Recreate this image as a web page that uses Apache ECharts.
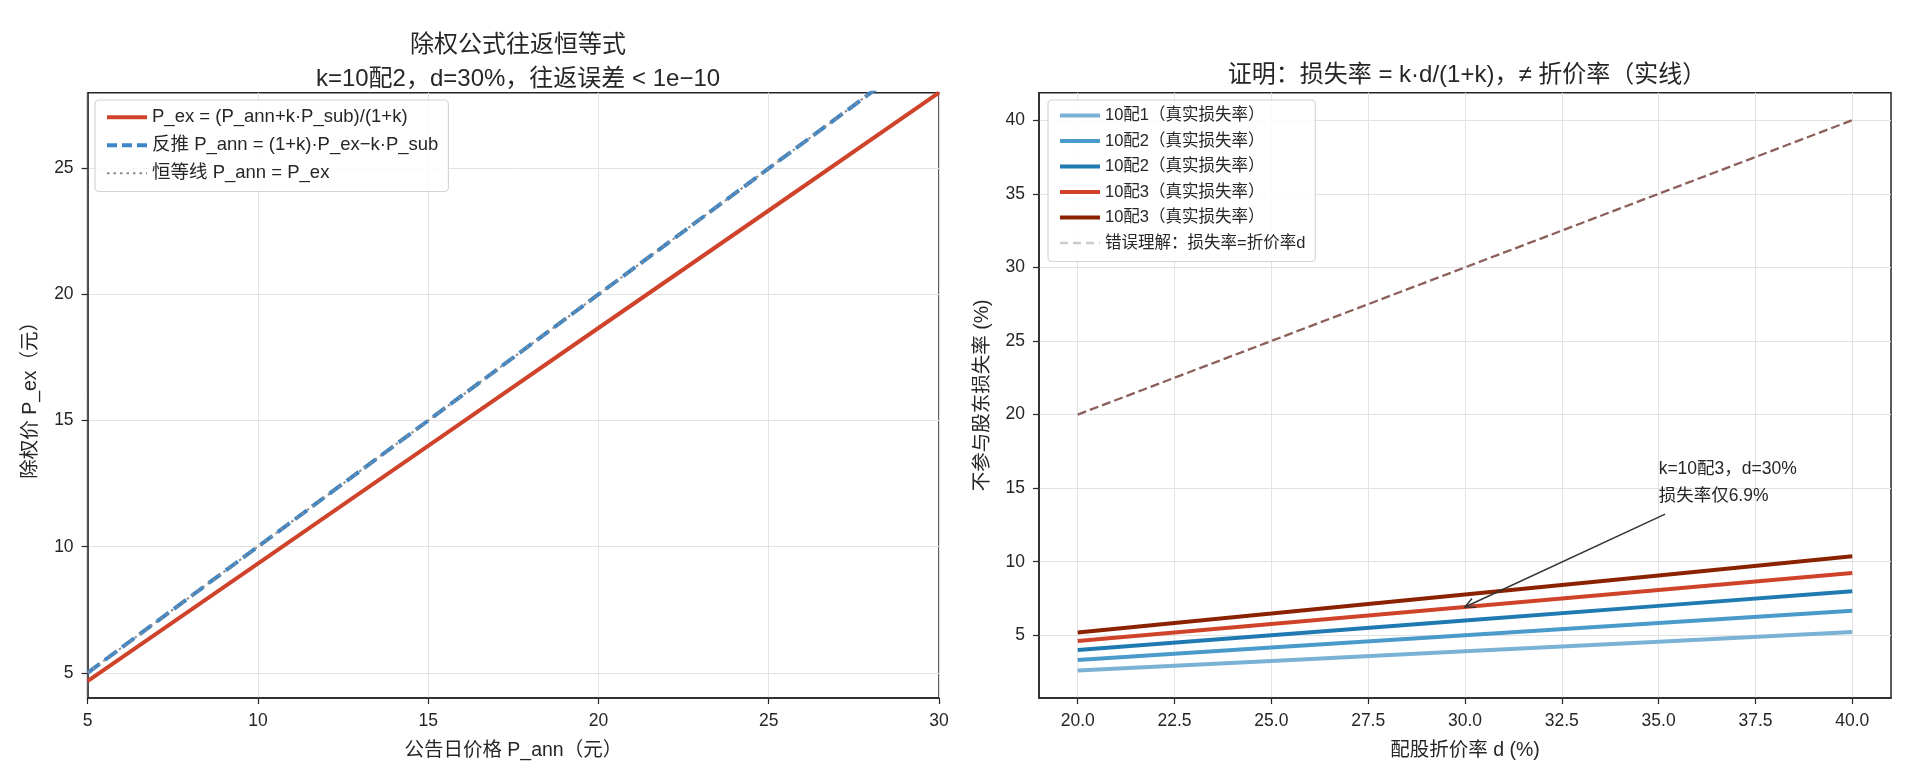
<!DOCTYPE html>
<html><head><meta charset="utf-8">
<script src="https://cdn.jsdelivr.net/npm/echarts@6/dist/echarts.min.js"></script>
<style>html,body{margin:0;padding:0;background:#fff}#c{width:1914px;height:783px}</style>
</head><body><div id="c"></div>
<script>
const FONT = '"Liberation Sans", "Noto Sans CJK SC", sans-serif';
const INK = '#262626';

// ---- Left panel data ----
const pAnn = [5, 10, 15, 20, 25, 30];
const pEx = [4.67, 9.33, 14.0, 18.67, 23.33, 28.0];
const pAnnBack = [5, 10, 15, 20, 25, 30];
const pIdentity = [5, 10, 15, 20, 25, 30];
const leftXTicks = [5, 10, 15, 20, 25, 30];
const leftYTicks = [5, 10, 15, 20, 25];
const leftNames = ['P_ex = (P_ann+k·P_sub)/(1+k)', '反推 P_ann = (1+k)·P_ex−k·P_sub', '恒等线 P_ann = P_ex'];

// ---- Right panel data ----
const dVals = [20, 25, 30, 35, 40];
const loss1 = [2.61, 3.26, 3.91, 4.57, 5.22];
const loss2 = [3.33, 4.17, 5.00, 5.83, 6.67];
const loss3 = [4.00, 5.00, 6.00, 7.00, 8.00];
const loss4 = [4.62, 5.77, 6.92, 8.08, 9.23];
const loss5 = [5.19, 6.48, 7.78, 9.07, 10.37];
const naive = [20, 25, 30, 35, 40];
const rightXTicks = [20, 22.5, 25, 27.5, 30, 32.5, 35, 37.5, 40];
const rightYTicks = [5, 10, 15, 20, 25, 30, 35, 40];
const rightNames = ['10配1（真实损失率）', '10配2（真实损失率）', '10配2（真实损失率）\u200b', '10配3（真实损失率）', '10配3（真实损失率）\u200b', '错误理解：损失率=折价率d'];
const rightColors = ['#7ab2d6', '#4a9bcb', '#1f7ab2', '#d0432b', '#8a2200'];
const annotText = 'k=10配3，d=30%\n损失率仅6.9%';
const annotAt = [35, 15];
const annotTip = [30, 6.92];

function pairs(xs, ys) { return xs.map((x, i) => [x, ys[i]]); }

function xAxis(gi, min, max, ticks, name, fmt) {
  return {
    type: 'value', gridIndex: gi, min: min, max: max,
    name: name, nameLocation: 'middle', nameGap: 43,
    nameTextStyle: { fontFamily: FONT, fontSize: 19.5, color: INK },
    axisLine: { show: true, lineStyle: { color: INK, width: 1.5 } },
    axisTick: { show: true, length: 6, lineStyle: { color: INK, width: 1.2 }, customValues: ticks },
    axisLabel: { customValues: ticks, margin: 14, fontFamily: FONT, fontSize: 17.5, color: INK, formatter: fmt },
    splitLine: { show: true, lineStyle: { color: '#e3e3e3', width: 1 } }
  };
}
function yAxis(gi, min, max, ticks, name) {
  return {
    type: 'value', gridIndex: gi, min: min, max: max,
    name: name, nameLocation: 'middle', nameGap: 47, nameRotate: 90,
    nameTextStyle: { fontFamily: FONT, fontSize: 19.5, color: INK },
    axisLine: { show: true, lineStyle: { color: INK, width: 1.5 } },
    axisTick: { show: true, length: 6, lineStyle: { color: INK, width: 1.2 }, customValues: ticks },
    axisLabel: { customValues: ticks, margin: 14, fontFamily: FONT, fontSize: 17.5, color: INK },
    splitLine: { show: true, lineStyle: { color: '#e3e3e3', width: 1 } }
  };
}
const legendCommon = {
  orient: 'vertical', align: 'left', itemWidth: 40, itemHeight: 14,
  backgroundColor: 'rgba(255,255,255,0.85)', borderColor: '#d4d4d4', borderWidth: 1.2, borderRadius: 4,
  selectedMode: false, itemStyle: { opacity: 0 }
};
function legItem(name, color, width, type) {
  return { name: name, itemStyle: { opacity: 0 }, lineStyle: { color: color, width: width, type: type || 'solid', opacity: 1 } };
}

const chart = echarts.init(document.getElementById('c'), null, { renderer: 'canvas' });
const option = {
  backgroundColor: '#fff',
  animation: false,
  title: [
    { text: '除权公式往返恒等式\nk=10配2，d=30%，往返误差 < 1e−10', left: 513, top: 23, textAlign: 'center',
      textStyle: { fontFamily: FONT, fontSize: 24, fontWeight: 'normal', color: INK, lineHeight: 34 } },
    { text: '证明：损失率 = k·d/(1+k)，≠ 折价率（实线）', left: 1462, top: 53, textAlign: 'center',
      textStyle: { fontFamily: FONT, fontSize: 24, fontWeight: 'normal', color: INK, lineHeight: 34 } }
  ],
  grid: [
    { left: 87.6, right: 975, top: 92.7, bottom: 85, show: true, borderColor: INK, borderWidth: 1.5, backgroundColor: 'transparent' },
    { left: 1039, right: 23, top: 92.7, bottom: 85, show: true, borderColor: INK, borderWidth: 1.5, backgroundColor: 'transparent' }
  ],
  xAxis: [
    xAxis(0, 5, 30, leftXTicks, '公告日价格 P_ann（元）'),
    xAxis(1, 19, 41, rightXTicks, '配股折价率 d (%)', v => v.toFixed(1))
  ],
  yAxis: [
    yAxis(0, 4, 28, leftYTicks, '除权价 P_ex（元）'),
    yAxis(1, 0.74, 41.87, rightYTicks, '不参与股东损失率 (%)')
  ],
  legend: [
    Object.assign({}, legendCommon, {
      left: 95, top: 100, padding: [8, 10, 9, 10], itemGap: 9.5,
      textStyle: { fontFamily: FONT, fontSize: 18.5, color: INK, lineHeight: 17.5 },
      data: [legItem(leftNames[0], '#d0432b', 4), legItem(leftNames[1], '#3f86c6', 4, [10, 5]), legItem(leftNames[2], '#8a8a8a', 2, [2.5, 4])]
    }),
    Object.assign({}, legendCommon, {
      left: 1048, top: 100, padding: [7, 10, 10, 10], itemGap: 8.5,
      textStyle: { fontFamily: FONT, fontSize: 16.5, color: INK, lineHeight: 17 },
      data: rightNames.slice(0, 5).map((n, i) => legItem(n, rightColors[i], 4)).concat([legItem(rightNames[5], '#cccccc', 2.3, [8, 5])])
    })
  ],
  series: [
    { name: leftNames[0], type: 'line', xAxisIndex: 0, yAxisIndex: 0, data: pairs(pAnn, pEx), symbol: 'none',
      lineStyle: { color: '#d0432b', width: 4 }, itemStyle: { color: '#d0432b' }, z: 2 },
    { name: leftNames[1], type: 'line', xAxisIndex: 0, yAxisIndex: 0, data: pairs(pAnn, pAnnBack), symbol: 'none',
      lineStyle: { color: '#3f86c6', width: 4, type: [15, 6.5] }, itemStyle: { color: '#3f86c6' }, z: 3 },
    { name: leftNames[2], type: 'line', xAxisIndex: 0, yAxisIndex: 0, data: pairs(pAnn, pIdentity), symbol: 'none',
      lineStyle: { color: '#8a8a8a', width: 2, type: [2.5, 4] }, itemStyle: { color: '#8a8a8a' }, z: 4 },

    ...[loss1, loss2, loss3, loss4, loss5].map((arr, i) => ({
      name: rightNames[i], type: 'line', xAxisIndex: 1, yAxisIndex: 1, data: pairs(dVals, arr), symbol: 'none',
      lineStyle: { color: rightColors[i], width: 4 }, itemStyle: { color: rightColors[i] }, z: 2 + i
    })),
    { name: rightNames[5], type: 'line', xAxisIndex: 1, yAxisIndex: 1, data: pairs(dVals, naive), symbol: 'none',
      lineStyle: { color: '#8c5f5a', width: 2.3, type: [9, 4] }, itemStyle: { color: '#8c5f5a' }, z: 8 }
  ]
};
chart.setOption(option);

// Annotation (text + open arrow) positioned through the axes' own conversion
const pA = chart.convertToPixel({ gridIndex: 1 }, annotAt);
const pT = chart.convertToPixel({ gridIndex: 1 }, annotTip);
const tail = [pA[0] + 6.5, pA[1] + 26];
const ang = Math.atan2(pT[1] - tail[1], pT[0] - tail[0]);
const hl = 11, ha = 0.45;
const h1 = [pT[0] - hl * Math.cos(ang - ha), pT[1] - hl * Math.sin(ang - ha)];
const h2 = [pT[0] - hl * Math.cos(ang + ha), pT[1] - hl * Math.sin(ang + ha)];
chart.setOption({
  graphic: [
    { type: 'text', x: pA[0], y: pA[1] - 32, z: 100,
      style: { text: annotText, fontFamily: FONT, fontSize: 17.5, fill: INK, lineHeight: 27, verticalAlign: 'top', align: 'left' } },
    { type: 'line', z: 100, shape: { x1: tail[0], y1: tail[1], x2: pT[0], y2: pT[1] }, style: { stroke: '#333', lineWidth: 1.5 } },
    { type: 'polyline', z: 100, shape: { points: [h1, pT, h2] }, style: { stroke: '#333', lineWidth: 1.5, fill: null } }
  ]
});
</script>
</body></html>
